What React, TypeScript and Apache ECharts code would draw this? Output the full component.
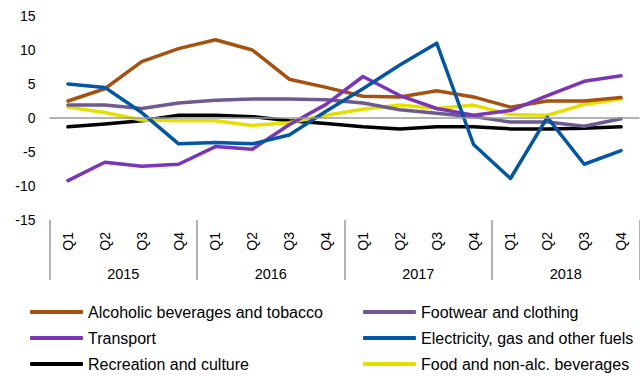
import React, { useEffect, useRef } from "react";
import * as echarts from "echarts";

const quarters = [
  "Q1", "Q2", "Q3", "Q4",
  "Q1", "Q2", "Q3", "Q4",
  "Q1", "Q2", "Q3", "Q4",
  "Q1", "Q2", "Q3", "Q4",
];
const years = ["2015", "2016", "2017", "2018"];

const alcoholTobacco = [2.5, 4.3, 8.3, 10.2, 11.5, 10.0, 5.7, 4.5, 3.2, 3.1, 4.0, 3.1, 1.6, 2.5, 2.5, 3.0];
const footwearClothing = [1.9, 1.9, 1.4, 2.2, 2.6, 2.8, 2.8, 2.7, 2.2, 1.2, 0.7, 0.2, -0.6, -0.6, -1.2, -0.1];
const transport = [-9.2, -6.5, -7.1, -6.8, -4.2, -4.6, -1.0, 2.0, 6.1, 3.3, 1.4, 0.4, 1.1, 3.3, 5.4, 6.2];
const electricityGas = [5.0, 4.5, 0.8, -3.8, -3.6, -3.8, -2.5, 1.0, 4.3, 7.8, 11.0, -3.9, -8.9, 0.1, -6.8, -4.8];
const recreationCulture = [-1.3, -0.9, -0.4, 0.4, 0.4, 0.2, -0.4, -0.8, -1.3, -1.6, -1.3, -1.3, -1.6, -1.6, -1.5, -1.3];
const foodBeverages = [1.6, 0.8, -0.3, -0.4, -0.4, -1.1, -0.7, 0.4, 1.3, 1.9, 1.4, 1.9, 0.5, 0.4, 2.0, 2.8];

const NAMES = {
  alcohol: "Alcoholic beverages and tobacco",
  footwear: "Footwear and clothing",
  transport: "Transport",
  electricity: "Electricity, gas and other fuels",
  recreation: "Recreation and culture",
  food: "Food and non-alc. beverages",
};

const COLORS = {
  alcohol: "#A5520F",
  footwear: "#6E5A8E",
  transport: "#7B35B8",
  electricity: "#0256A6",
  recreation: "#000000",
  food: "#E3E000",
};

const FONT = "'Liberation Sans', Arial, sans-serif";

function lineSeries(name: string, data: number[], color: string, z: number) {
  return {
    name,
    type: "line",
    data,
    xAxisIndex: 0,
    showSymbol: false,
    symbol: "none",
    z,
    lineStyle: { color, width: 3.5, cap: "round", join: "round" },
    itemStyle: { color },
  };
}

export default function App() {
  const ref = useRef<HTMLDivElement>(null);

  useEffect(() => {
    if (!ref.current) return;
    const chart = echarts.init(ref.current, null, { renderer: "svg" });

    const legendBase = {
      orient: "vertical",
      top: 303,
      padding: 0,
      itemWidth: 53,
      itemHeight: 4,
      itemGap: 8,
      icon: "roundRect",
      textStyle: { fontFamily: FONT, fontSize: 16, color: "#000", lineHeight: 18 },
      selectedMode: false,
    };

    chart.setOption({
      animation: false,
      backgroundColor: "#ffffff",
      grid: { left: 49.5, right: 0.5, top: 16, height: 204 },
      legend: [
        { ...legendBase, left: 30, data: [NAMES.alcohol, NAMES.transport, NAMES.recreation] },
        { ...legendBase, left: 363, data: [NAMES.footwear, NAMES.electricity, NAMES.food] },
      ],
      xAxis: [
        {
          type: "category",
          data: quarters,
          position: "bottom",
          boundaryGap: true,
          axisLine: { show: false },
          axisTick: { show: false },
          splitLine: { show: false },
          axisLabel: {
            interval: 0,
            rotate: 90,
            margin: 12,
            fontFamily: FONT,
            fontSize: 14,
            color: "#000",
          },
        },
        {
          type: "category",
          data: years,
          position: "bottom",
          boundaryGap: true,
          axisLine: { show: false },
          axisTick: {
            show: true,
            interval: 0,
            length: 60,
            lineStyle: { color: "#9a9a9a", width: 1.5 },
          },
          splitLine: { show: false },
          axisLabel: {
            interval: 0,
            margin: 46,
            fontFamily: FONT,
            fontSize: 14.5,
            color: "#000",
          },
        },
      ],
      yAxis: {
        type: "value",
        min: -15,
        max: 15,
        interval: 5,
        axisLine: { show: false },
        axisTick: { show: false },
        splitLine: { show: false },
        axisLabel: { margin: 14, fontFamily: FONT, fontSize: 14, color: "#000" },
      },
      series: [
        {
          name: "zero",
          type: "line",
          data: [],
          xAxisIndex: 0,
          z: 1,
          silent: true,
          markLine: {
            silent: true,
            symbol: "none",
            label: { show: false },
            lineStyle: { color: "#9a9a9a", width: 1.5, type: "solid" },
            data: [{ yAxis: 0 }],
          },
        },
        lineSeries(NAMES.recreation, recreationCulture, COLORS.recreation, 2),
        lineSeries(NAMES.food, foodBeverages, COLORS.food, 2),
        lineSeries(NAMES.footwear, footwearClothing, COLORS.footwear, 2),
        lineSeries(NAMES.alcohol, alcoholTobacco, COLORS.alcohol, 2),
        lineSeries(NAMES.transport, transport, COLORS.transport, 2),
        lineSeries(NAMES.electricity, electricityGas, COLORS.electricity, 2),
      ],
    });

    return () => chart.dispose();
  }, []);

  return (
    <div
      ref={ref}
      style={{ position: "fixed", left: 0, top: 0, width: 640, height: 376 }}
    />
  );
}
